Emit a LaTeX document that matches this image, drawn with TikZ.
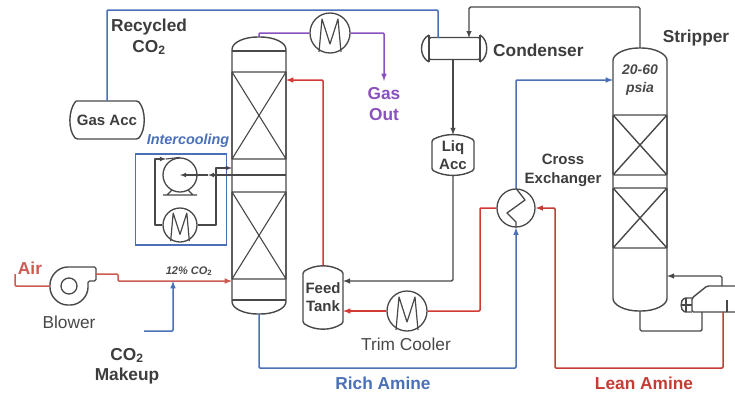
\documentclass[tikz,border=0pt]{standalone}
\usepackage{fontspec}
\setmainfont{Liberation Sans}
\definecolor{pipeblue}{HTML}{4A70B8}
\definecolor{pipered}{HTML}{D23A36}
\definecolor{airred}{HTML}{CC5A50}
\definecolor{leanred}{HTML}{C43C34}
\definecolor{gaspurple}{HTML}{8A50BE}
\definecolor{unit}{HTML}{484848}
\begin{document}
\begin{tikzpicture}[x=1pt, y=-1pt, >=latex,
  unitline/.style={draw=unit, line width=1.4pt, line join=round, rounded corners=1.5pt},
  thinline/.style={draw=unit, line width=1.1pt, line join=round},
  pipe/.style={line width=1.5pt, draw=#1, line join=round, rounded corners=1pt},
  cooler/.style={circle, draw=unit, line width=1.3pt, minimum size=#1, inner sep=0pt},
  mark point/.style={inner sep=0pt, minimum size=0pt},
  lbl/.style={font=\fontsize{17.3}{20.5}\selectfont\bfseries, text=#1, align=center, inner sep=0pt},
  lbl/.default=unit!85!black,
  plain/.style={font=\fontsize{17.3}{20}\selectfont, text=unit, align=center, inner sep=0pt},
  small/.style={font=\fontsize{15}{18.5}\selectfont\bfseries, text=unit!85!black, align=center, inner sep=0pt}]
  \useasboundingbox (0,0) rectangle (735,394);
  \clip (0,0) rectangle (735,394);
  % columns
  \node[mark point, minimum width=54pt, minimum height=277pt] (absorber) at (259,175.5) {};
  \node[mark point, minimum width=54pt, minimum height=263pt] (stripper) at (640,179.5) {};
  \draw[unitline] (232,51) .. controls (232,42) and (245,37) .. (259,37) .. controls (273,37) and (286,42) .. (286,51)
    -- (286,300) .. controls (286,309) and (273,314) .. (259,314) .. controls (245,314) and (232,309) .. (232,300) -- cycle;
  \foreach \y in {51,175,300} \draw[unitline] (232,\y) -- (286,\y);
  \foreach \t/\b in {72/159,192/279}
    \draw[thinline] (232,\t) rectangle (286,\b) (232,\t) -- (286,\b) (286,\t) -- (232,\b);
  \draw[unitline] (613,62) .. controls (613,54) and (625,48) .. (640,48) .. controls (655,48) and (667,54) .. (667,62)
    -- (667,297) .. controls (667,305) and (655,311) .. (640,311) .. controls (625,311) and (613,305) .. (613,297) -- cycle;
  \foreach \t/\b in {115/175,188/248}
    \draw[unitline] (613,\t) rectangle (667,\b) (613,\t) -- (667,\b) (667,\t) -- (613,\b);
  % vessels
  \node[small, minimum width=74pt, minimum height=38pt] (gasacc) at (107,120) {Gas Acc};
  \draw[unitline] (76,101) -- (138,101) .. controls (146,110) and (146,130) .. (138,139) -- (76,139) .. controls (68,130) and (68,110) .. (76,101);
  \node[small, minimum width=43pt, minimum height=40pt] (liqacc) at (453,155) {Liq\\Acc};
  \draw[unitline] (432,140) .. controls (445,133) and (461,133) .. (474,140) -- (474,170) .. controls (461,177) and (445,177) .. (432,170) -- cycle;
  \node[small, minimum width=42pt, minimum height=63pt] (feedtank) at (323,297) {Feed\\Tank};
  \draw[unitline] (303,272) .. controls (315,264) and (331,264) .. (343,272) -- (343,323) .. controls (331,331) and (315,331) .. (303,323) -- cycle;
  \node[mark point, minimum width=62pt, minimum height=22pt] (condenser) at (453,48.5) {};
  \draw[unitline] (429,37.5) rectangle (480,59.5);
  \draw[unitline] (429,35) -- (429,62) (480,35) -- (480,62);
  \draw[unitline] (429,35) .. controls (419,40) and (419,57) .. (429,62);
  \draw[unitline] (480,35) .. controls (489,40) and (489,57) .. (480,62);
  % reboiler
  \coordinate (rebtop) at (722,286);
  \coordinate (rebin) at (702,312);
  \coordinate (rebout) at (723,312);
  \draw[unitline] (735,286) -- (707,286) -- (692,298) -- (692,312) -- (735,312);
  \draw[unitline] (692,298) -- (686,298) .. controls (680,299) and (680,311) .. (686,312) -- (692,312);
  \draw[thinline] (727,300) -- (727,312) (686,298) -- (686,312) (682,305) -- (692,305);
  % coolers
  \node[cooler=40pt] (topcooler) at (330,33) {};
  \node[cooler=40pt] (trimcooler) at (407,311) {};
  \node[cooler=34pt] (intercooler) at (180,225) {};
  \foreach \c/\s in {topcooler/1,trimcooler/1,intercooler/0.85}
    \draw[unit, line width=1.2pt, line join=round] ([shift={(-11*\s,19*\s)}]\c.center) -- ([shift={(-8*\s,-14*\s)}]\c.center)
      -- ([shift={(0,11*\s)}]\c.center) -- ([shift={(8*\s,-14*\s)}]\c.center) -- ([shift={(11*\s,19*\s)}]\c.center);
  % pump
  \node[cooler=34pt] (pump) at (180,175) {};
  \draw[thinline] (163,195) -- (197,195) (167,195) -- (172,190) (193,195) -- (188,190);
  % cross exchanger
  \node[cooler=38pt] (crossx) at (516,208) {};
  \draw[unit, line width=1.3pt, line join=round] (crossx.north) -- (525,200) -- (507,213) -- (516,222) -- (crossx.south);
  % blower
  \node[mark point, minimum size=38pt, circle] (blower) at (69,286) {};
  \node[cooler=16pt] (blowerhub) at (69,286) {};
  \draw[unitline] (96,267) -- (69,267) .. controls (58,267) and (50,276) .. (50,286) .. controls (50,296) and (58,305) .. (69,305)
    .. controls (80,305) and (88,296) .. (88,286) -- (88,281) -- (96,281) -- cycle;
  % intercooling box
  \node[draw=pipeblue, line width=1.5pt, minimum width=91pt, minimum height=91pt, inner sep=0pt] (icbox) at (181,199.5) {};
  \coordinate (icdraw) at (232,175);
  \coordinate (icret) at (232,168);
  \coordinate (icvalve) at (208,175);
  \coordinate (icleft) at (166,159);
  \draw[thinline, ->] (icdraw) -- (icvalve);
  \draw[thinline, ->] (icvalve) -- (pump.center);
  \draw[thinline, ->] (intercooler.east) -- (216,225) -- (216,168) -- (icret);
  \draw[thinline, ->] (intercooler.west) -- (155,225) -- (155,159) -- (icleft);
  \draw[thinline] (icleft) -- (pump.north);
  % streams
  \coordinate (airin) at (15,274);
  \coordinate (blowerout) at (96,274);
  \coordinate (absin) at (232,281);
  \coordinate (mixpt) at (173,281);
  \coordinate (makeup) at (144,331);
  \coordinate (gasend) at (384,81);
  \coordinate (absfeed) at (286,80);
  \coordinate (stripfeed) at (613,80);
  \coordinate (stripret) at (667,276);
  \coordinate (condin) at (438,38);
  \coordinate (condret) at (469,38);
  \coordinate (tankin) at (343,281);
  \coordinate (tankcool) at (343,311);
  \draw[pipe=pipeblue] (gasacc.north) -- (107,10) -- (438,10) -- (condin);
  \draw[pipe=gaspurple] (absorber.north) -- (259,33) -- (topcooler.west);
  \draw[pipe=gaspurple, ->] (topcooler.east) -- (384,33) -- (gasend);
  \draw[unitline, ->] (stripper.north) -- (640,7) -- (469,7) -- (condret);
  \draw[unitline, ->] (condenser.south) -- (liqacc.north);
  \draw[unitline, ->] (liqacc.south) -- (453,281) -- (tankin);
  \draw[pipe=pipered, ->] (feedtank.north) -- (323,80) -- (absfeed);
  \draw[pipe=pipered, ->] (trimcooler.west) -- (tankcool);
  \draw[pipe=pipered] (trimcooler.east) -- (480,311) -- (480,208) -- (crossx.west);
  \draw[pipe=pipeblue, ->] (absorber.south) -- (259,368) -- (516,368) -- (crossx.south);
  \draw[pipe=pipeblue, ->] (crossx.north) -- (516,80) -- (stripfeed);
  \draw[pipe=leanred, ->] (rebout) -- (723,368) -- (555,368) -- (555,208) -- (crossx.east);
  \draw[unitline] (stripper.south) -- (640,331) -- (702,331) -- (rebin);
  \draw[unitline, ->] (rebtop) -- (722,276) -- (stripret);
  \draw[pipe=airred] (airin) -- (15,286) -- (blower.west);
  \draw[pipe=airred, ->] (blowerout) -- (118,274) -- (118,281) -- (absin);
  \draw[pipe=pipeblue, ->] (makeup) -- (173,331) -- (mixpt);
  % labels
  \node[lbl] (recycled) at (149,37) {Recycled\\CO$_{\mathbf 2}$};
  \node[font=\fontsize{14.4}{16}\selectfont\bfseries\itshape, text=pipeblue, inner sep=0pt] (intercooling) at (188,141) {Intercooling};
  \node[lbl=gaspurple] (gasout) at (384,104) {Gas\\Out};
  \node[lbl, anchor=west] (condlabel) at (493,50) {Condenser};
  \node[lbl] (striplabel) at (696,38.5) {Stripper};
  \node[font=\fontsize{14}{18}\selectfont\bfseries\itshape, text=unit, align=center, inner sep=0pt] (pressure) at (640,80) {20-60\\psia};
  \node[small] (crosslabel) at (563,170.5) {Cross\\Exchanger};
  \node[lbl=airred] (airlabel) at (30,268) {Air};
  \node[plain] (blowerlabel) at (69,322) {Blower};
  \node[font=\fontsize{11}{12}\selectfont\bfseries\itshape, text=unit, inner sep=0pt] (conc) at (189,271) {12\% CO$_{\mathbf 2}$};
  \node[lbl] (makeuplabel) at (127,366) {CO$_{\mathbf 2}$\\Makeup};
  \node[plain] (trimlabel) at (406,344) {Trim Cooler};
  \node[lbl=pipeblue] (richlabel) at (383,383) {Rich Amine};
  \node[lbl=leanred] (leanlabel) at (644,383) {Lean Amine};
\end{tikzpicture}
\end{document}
